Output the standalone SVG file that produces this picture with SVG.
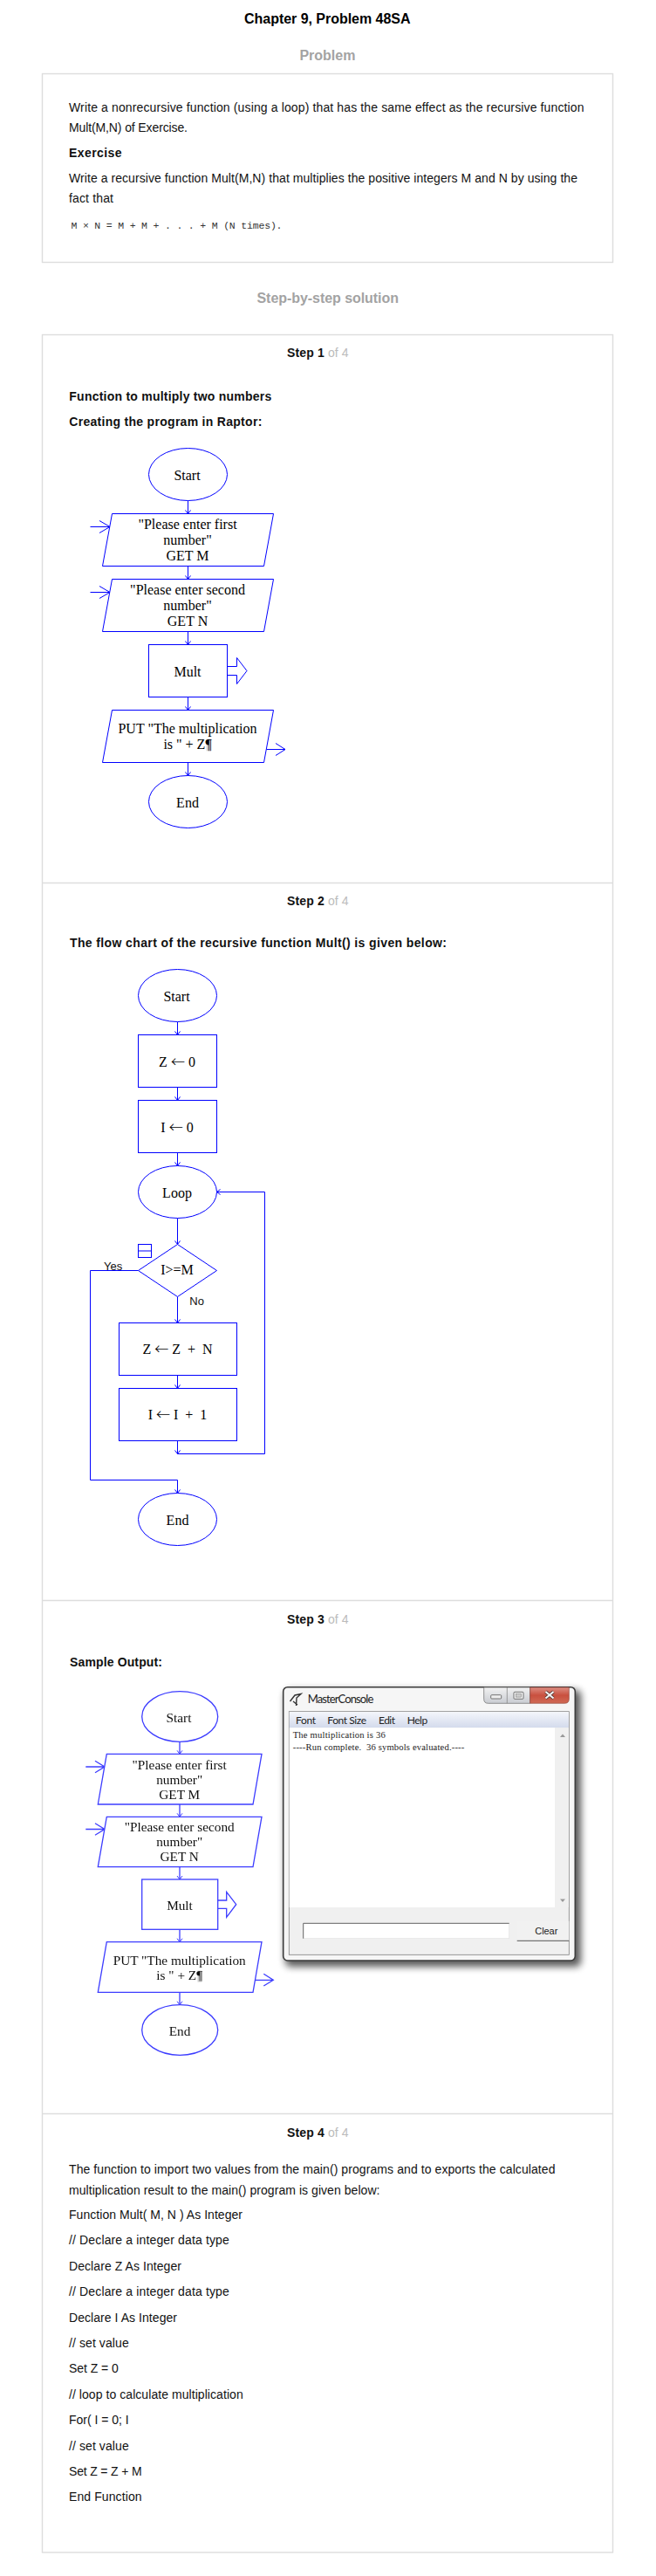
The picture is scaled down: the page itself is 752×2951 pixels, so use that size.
<svg xmlns="http://www.w3.org/2000/svg" width="752" height="2951" viewBox="0 0 752 2951">
<style>
.sans{font-family:"Liberation Sans",Arial,sans-serif;font-size:14px;fill:#111}
.b{font-weight:700}
.head{font-family:"Liberation Sans",Arial,sans-serif;font-size:16px;font-weight:700}
.grey{fill:#a3a3a3}
.of{font-family:"Liberation Sans",Arial,sans-serif;font-size:14px;fill:#bbb}
.t{font-family:"Liberation Serif","Times New Roman",serif;font-size:16px;fill:#000;text-anchor:middle}
.t3{font-family:"Liberation Serif","Times New Roman",serif;font-size:15.3px;fill:#111;text-anchor:middle}
.arr{font-family:"Noto Sans CJK SC","Liberation Sans",sans-serif;font-size:16px;font-weight:300}
.shape{fill:#fff;stroke:#00f;stroke-width:1}
.shape3{fill:#fff;stroke:#3c3cff;stroke-width:1.3}
.line{fill:none;stroke:#00f;stroke-width:1}
.line3{fill:none;stroke:#3c3cff;stroke-width:1.3}
.panel{fill:#fff;stroke:#ddd;stroke-width:1.4}
.div{stroke:#ddd;stroke-width:1.4}
.ui{font-family:Lato,"Noto Sans",sans-serif;font-size:12px;fill:#222}
.con{font-family:"Liberation Serif","Times New Roman",serif;font-size:10.6px;fill:#222}
</style>
<defs>
<marker id="tip" markerUnits="userSpaceOnUse" markerWidth="8" markerHeight="8" viewBox="-5 -4 6 8" refX="0" refY="0" orient="auto"><path d="M-4,-3 L0,0 L-4,3" fill="none" stroke="#00f" stroke-width="1"/></marker>
<marker id="tip3" markerUnits="userSpaceOnUse" markerWidth="8" markerHeight="8" viewBox="-5 -4 6 8" refX="0" refY="0" orient="auto"><path d="M-4,-3 L0,0 L-4,3" fill="none" stroke="#3c3cff" stroke-width="1"/></marker>
<filter id="soft" x="-5%" y="-5%" width="110%" height="110%"><feGaussianBlur stdDeviation="0.3"/></filter>
<filter id="shadow" x="-10%" y="-10%" width="120%" height="120%"><feGaussianBlur stdDeviation="4"/></filter>
<linearGradient id="menu" x1="0" y1="0" x2="0" y2="1"><stop offset="0" stop-color="#f4f6fb"/><stop offset="1" stop-color="#d3daec"/></linearGradient>
<linearGradient id="red" x1="0" y1="0" x2="0" y2="1"><stop offset="0" stop-color="#dd8f84"/><stop offset="0.5" stop-color="#c9503f"/><stop offset="1" stop-color="#d06a55"/></linearGradient>
<linearGradient id="btn" x1="0" y1="0" x2="0" y2="1"><stop offset="0" stop-color="#f2f2f2"/><stop offset="1" stop-color="#c9ccd2"/></linearGradient>
</defs>
<rect width="752" height="2951" fill="#fff"/>

<g id="page-text">
<text class="head" x="280" y="26.7" textLength="190.5" fill="#000">Chapter 9, Problem 48SA</text>
<text class="head grey" x="343.4" y="69" textLength="64">Problem</text>
<text class="head grey" x="294.5" y="346.7" textLength="162.5">Step-by-step solution</text>
</g>

<g id="problem-panel">
<rect class="panel" x="48.5" y="84.5" width="654" height="216"/>
<text class="sans" x="79" y="128.3" textLength="590.5">Write a nonrecursive function (using a loop) that has the same effect as the recursive function</text>
<text class="sans" x="79" y="151" textLength="136">Mult(M,N) of Exercise.</text>
<text class="sans b" x="79" y="180" textLength="60.6">Exercise</text>
<text class="sans" x="79" y="209.3" textLength="583">Write a recursive function Mult(M,N) that multiplies the positive integers M and N by using the</text>
<text class="sans" x="79" y="232" textLength="51">fact that</text>
<text x="81.5" y="261.7" font-family="'Liberation Mono','Courier New',monospace" font-size="11.5" fill="#333" textLength="242">M × N = M + M + . . . + M (N times).</text>
</g>

<g id="solution-panel">
<rect class="panel" x="48.5" y="383.5" width="654" height="2540.5"/>
<line class="div" x1="48.5" y1="1011.5" x2="702.5" y2="1011.5"/>
<line class="div" x1="48.5" y1="1833.5" x2="702.5" y2="1833.5"/>
<line class="div" x1="48.5" y1="2421.5" x2="702.5" y2="2421.5"/>
<text class="sans b" x="329" y="409" textLength="42.7">Step 1</text><text class="of" x="376" y="409" textLength="23.5">of 4</text>
<text class="sans b" x="329" y="1036.7" textLength="42.7">Step 2</text><text class="of" x="376" y="1036.7" textLength="23.5">of 4</text>
<text class="sans b" x="329" y="1860" textLength="42.7">Step 3</text><text class="of" x="376" y="1860" textLength="23.5">of 4</text>
<text class="sans b" x="329" y="2447.8" textLength="42.7">Step 4</text><text class="of" x="376" y="2447.8" textLength="23.5">of 4</text>
<text class="sans b" x="79.3" y="459" textLength="232">Function to multiply two numbers</text>
<text class="sans b" x="79.3" y="488" textLength="221">Creating the program in Raptor:</text>
<text class="sans b" x="80" y="1085" textLength="432">The flow chart of the recursive function Mult() is given below:</text>
<text class="sans b" x="80" y="1908.7" textLength="106">Sample Output:</text>
<text class="sans" x="79" y="2490.3" textLength="557.5">The function to import two values from the main() programs and to exports the calculated</text>
<text class="sans" x="79" y="2513.5" textLength="356.5">multiplication result to the main() program is given below:</text>
<text class="sans" x="79" y="2542" textLength="199">Function Mult( M, N ) As Integer</text>
<text class="sans" x="79" y="2571" textLength="183.8">// Declare a integer data type</text>
<text class="sans" x="79" y="2601" textLength="129">Declare Z As Integer</text>
<text class="sans" x="79" y="2630" textLength="183.8">// Declare a integer data type</text>
<text class="sans" x="79" y="2660" textLength="124">Declare I As Integer</text>
<text class="sans" x="79" y="2688.8" textLength="68.7">// set value</text>
<text class="sans" x="79" y="2718" textLength="56.7">Set Z = 0</text>
<text class="sans" x="79" y="2747.9" textLength="199.7">// loop to calculate multiplication</text>
<text class="sans" x="79" y="2777" textLength="68.7">For( I = 0; I</text>
<text class="sans" x="79" y="2806.9" textLength="68.7">// set value</text>
<text class="sans" x="79" y="2836" textLength="83.6">Set Z = Z + M</text>
<text class="sans" x="79" y="2865" textLength="83.6">End Function</text>
</g>

<g id="connectors-step1">
<path class="line" marker-end="url(#tip)" d="M215.5,573.5V588.5"/>
<path class="line" marker-end="url(#tip)" d="M215.5,648.5V663.5"/>
<path class="line" marker-end="url(#tip)" d="M215.5,723.5V738.5"/>
<path class="line" marker-end="url(#tip)" d="M215.5,798.5V813.5"/>
<path class="line" marker-end="url(#tip)" d="M215.5,873.5V888.5"/>
<path class="line" d="M103.5,603.5H126M114,596.5L126,603.5L114,610.5"/>
<path class="line" d="M103.5,678.5H126M114,671.5L126,678.5L114,685.5"/>
<path class="line" d="M260.5,763.5H271.5V753.5L283,768.5L271.5,783.5V773.5H260.5"/>
<path class="line" d="M305.5,858.5H327M316,851.5L327,858.5L316,865.5"/>
</g>

<g id="s1-start"><ellipse class="shape" cx="215.5" cy="543.5" rx="45" ry="30"/><text class="t" x="214.5" y="550">Start</text></g>
<g id="s1-get-m"><path class="shape" d="M128.5,588.5H313.5L302.5,648.5H117.5Z"/><text class="t" x="215" y="606">"Please enter first</text><text class="t" x="215" y="624">number"</text><text class="t" x="215" y="642">GET M</text></g>
<g id="s1-get-n"><path class="shape" d="M128.5,663.5H313.5L302.5,723.5H117.5Z"/><text class="t" x="215" y="681.3">"Please enter second</text><text class="t" x="215" y="699">number"</text><text class="t" x="215" y="716.7">GET N</text></g>
<g id="s1-mult"><rect class="shape" x="170.5" y="738.5" width="90" height="60"/><text class="t" x="215" y="775">Mult</text></g>
<g id="s1-put"><path class="shape" d="M128.5,813.5H313.5L302.5,873.5H117.5Z"/><rect x="236.7" y="847.3" width="5" height="13" fill="#cfcfcf"/><text class="t" x="215" y="840">PUT "The multiplication</text><text class="t" x="215" y="858">is " + Z¶</text></g>
<g id="s1-end"><ellipse class="shape" cx="215.5" cy="918.5" rx="45" ry="30"/><text class="t" x="215" y="925">End</text></g>

<g id="connectors-step2">
<path class="line" marker-end="url(#tip)" d="M203.5,1170.5V1185.5"/>
<path class="line" marker-end="url(#tip)" d="M203.5,1245.5V1260.5"/>
<path class="line" marker-end="url(#tip)" d="M203.5,1320.5V1335.5"/>
<path class="line" marker-end="url(#tip)" d="M203.5,1395.5V1425.5"/>
<path class="line" marker-end="url(#tip)" d="M203.5,1485.5V1515.5"/>
<path class="line" marker-end="url(#tip)" d="M203.5,1575.5V1590.5"/>
<path class="line" marker-end="url(#tip)" d="M203.5,1650.5V1665.5"/>
<path class="line" marker-end="url(#tip)" d="M203.5,1665.5H303.5V1365.5H248.5"/>
<path class="line" marker-end="url(#tip)" d="M158.5,1455.5H103.5V1695.5H203.5V1710.5"/>
</g>

<g id="s2-start"><ellipse class="shape" cx="203.5" cy="1140.5" rx="45" ry="30"/><text class="t" x="202.5" y="1146.7">Start</text></g>
<g id="s2-z0"><rect class="shape" x="158.5" y="1185.5" width="90" height="60"/><text class="t" x="203" y="1221.7">Z <tspan class="arr">←</tspan> 0</text></g>
<g id="s2-i0"><rect class="shape" x="158.5" y="1260.5" width="90" height="60"/><text class="t" x="203" y="1296.7">I <tspan class="arr">←</tspan> 0</text></g>
<g id="s2-loop"><ellipse class="shape" cx="203.5" cy="1365.5" rx="45" ry="30"/><text class="t" x="203" y="1372.3">Loop</text></g>
<g id="s2-decision">
<rect class="line" x="158.5" y="1425.5" width="15" height="15"/><line class="line" x1="158.5" y1="1433" x2="173.5" y2="1433"/>
<path class="shape" d="M203.5,1425.5L248.5,1455.5L203.5,1485.5L158.5,1455.5Z"/>
<text class="t" x="203" y="1460">I&gt;=M</text>
<text x="119" y="1455.3" font-family="'Liberation Sans',Arial,sans-serif" font-size="13" fill="#111">Yes</text>
<text x="217.3" y="1495" font-family="'Liberation Sans',Arial,sans-serif" font-size="13" fill="#111">No</text>
</g>
<g id="s2-zzn"><rect class="shape" x="136.5" y="1515.5" width="135" height="60"/><text class="t" xml:space="preserve" x="203.5" y="1550.7">Z <tspan class="arr">←</tspan> Z  +  N</text></g>
<g id="s2-ii1"><rect class="shape" x="136.5" y="1590.5" width="135" height="60"/><text class="t" xml:space="preserve" x="203.5" y="1625.7">I <tspan class="arr">←</tspan> I  +  1</text></g>
<g id="s2-end"><ellipse class="shape" cx="203.5" cy="1740.5" rx="45" ry="30"/><text class="t" x="203.5" y="1746.7">End</text></g>

<g id="connectors-step3" filter="url(#soft)">
<path class="line3" marker-end="url(#tip3)" d="M206,1995.3V2009.3"/>
<path class="line3" marker-end="url(#tip3)" d="M206,2067V2081.3"/>
<path class="line3" marker-end="url(#tip3)" d="M206,2138.7V2153"/>
<path class="line3" marker-end="url(#tip3)" d="M206,2210.3V2224.7"/>
<path class="line3" marker-end="url(#tip3)" d="M206,2282.3V2296.7"/>
<path class="line3" d="M98.3,2024H120M109,2017.3L120,2024L109,2030.7"/>
<path class="line3" d="M98.3,2095.5H120M109,2088.8L120,2095.5L109,2102.2"/>
<path class="line3" d="M249.7,2177H259.7V2167.3L270.7,2181.7L259.7,2196.3V2186.3H249.7"/>
<path class="line3" d="M292.3,2268.3H313.3M302.3,2261.3L313.3,2268.3L302.3,2275"/>
</g>

<g id="s3-start" filter="url(#soft)"><ellipse class="shape3" cx="206.2" cy="1966.5" rx="43.5" ry="28.8"/><text class="t3" x="205" y="1972.7">Start</text></g>
<g id="s3-get-m" filter="url(#soft)"><path class="shape3" d="M122.3,2009.3H300L290,2067H112.3Z"/><text class="t3" x="205.7" y="2026.7">"Please enter first</text><text class="t3" x="205.7" y="2043.5">number"</text><text class="t3" x="205.7" y="2060.7">GET M</text></g>
<g id="s3-get-n" filter="url(#soft)"><path class="shape3" d="M122.3,2081.3H300L290,2138.7H112.3Z"/><text class="t3" x="205.7" y="2098.3">"Please enter second</text><text class="t3" x="205.7" y="2115">number"</text><text class="t3" x="205.7" y="2132.3">GET N</text></g>
<g id="s3-mult" filter="url(#soft)"><rect class="shape3" x="162.7" y="2153" width="87" height="57.3"/><text class="t3" x="206" y="2188.3">Mult</text></g>
<g id="s3-put" filter="url(#soft)"><path class="shape3" d="M122.3,2224.7H300L290,2282.3H112.3Z"/><rect x="226.5" y="2257.5" width="5" height="13" fill="#cfcfcf"/><text class="t3" x="205.7" y="2250.7">PUT "The multiplication</text><text class="t3" x="205.7" y="2267.7">is " + Z¶</text></g>
<g id="s3-end" filter="url(#soft)"><ellipse class="shape3" cx="206.2" cy="2325.5" rx="43.5" ry="28.8"/><text class="t3" x="206" y="2331.7">End</text></g>

<g id="master-console">
<rect x="327" y="1936" width="339" height="317" rx="6" fill="#000" opacity="0.65" filter="url(#shadow)"/>
<rect x="324.7" y="1932.7" width="334.6" height="313.3" rx="5" fill="#f6f6f6" stroke="#3c3c3c" stroke-width="1.6"/>
<rect x="331.3" y="1960.7" width="321" height="278.6" fill="#f0f0f0" stroke="#808080" stroke-width="0.8"/>
<rect x="331.7" y="1961.1" width="320.2" height="18.2" fill="url(#menu)"/>
<rect x="331.7" y="1979.3" width="304.3" height="205.7" fill="#fff"/>
<rect x="636" y="1979.3" width="16" height="205.7" fill="#f0f0f0"/>
<path d="M642,1990L645,1986.5L648,1990Z M642,2175.5L645,2179L648,2175.5Z" fill="#999"/>
<path d="M332.5,1949L338,1942L345,1940.5L340,1945L339.5,1954M336,1949L341,1953" fill="none" stroke="#333" stroke-width="1.4"/>
<text class="ui" x="352.7" y="1950.7" textLength="75.6" style="font-size:13px">MasterConsole</text>
<text class="ui" x="339" y="1974.7" textLength="23">Font</text>
<text class="ui" x="375.3" y="1974.7" textLength="44.7">Font Size</text>
<text class="ui" x="434" y="1974.7" textLength="19">Edit</text>
<text class="ui" x="466.7" y="1974.7" textLength="23.5">Help</text>
<text class="con" x="335.7" y="1990.7" textLength="106">The multiplication is 36</text>
<text class="con" xml:space="preserve" x="335.7" y="2004.7" textLength="196.6">----Run complete.  36 symbols evaluated.----</text>
<rect x="347.7" y="2203.3" width="236" height="17.4" fill="#fff" stroke="#e4e4e4" stroke-width="0.8"/>
<path d="M347.7,2220.7V2203.3H583.7" fill="none" stroke="#666" stroke-width="1"/>
<rect x="592.7" y="2200.7" width="59.6" height="22.6" fill="#f1f1f1"/>
<path d="M592.7,2223.3H652.3" stroke="#555" stroke-width="1"/>
<text x="613.3" y="2216" font-family="'Liberation Sans',Arial,sans-serif" font-size="11" fill="#222" textLength="26">Clear</text>
<path d="M554.7,1933H607.7V1951.3H559.7Q554.7,1951.3 554.7,1946.3Z" fill="url(#btn)" stroke="#777" stroke-width="0.8"/>
<line x1="581.3" y1="1933" x2="581.3" y2="1951.3" stroke="#888" stroke-width="0.8"/>
<path d="M607.7,1933H652.3V1946.3Q652.3,1951.3 647.3,1951.3H607.7Z" fill="url(#red)" stroke="#8a3a30" stroke-width="0.6"/>
<rect x="562.7" y="1941.7" width="12" height="4.3" rx="1" fill="#eee" stroke="#666" stroke-width="0.9"/>
<rect x="589" y="1938.3" width="11" height="8" rx="1" fill="#eee" stroke="#666" stroke-width="0.9"/>
<rect x="591.5" y="1940.5" width="6" height="3.6" fill="#ccc" stroke="#777" stroke-width="0.5"/>
<path d="M625.5,1938L634.5,1945.5M634.5,1938L625.5,1945.5" stroke="#5a3a36" stroke-width="3.6" fill="none"/>
<path d="M625.5,1938L634.5,1945.5M634.5,1938L625.5,1945.5" stroke="#f4f4f4" stroke-width="2.2" fill="none"/>
</g>
</svg>
